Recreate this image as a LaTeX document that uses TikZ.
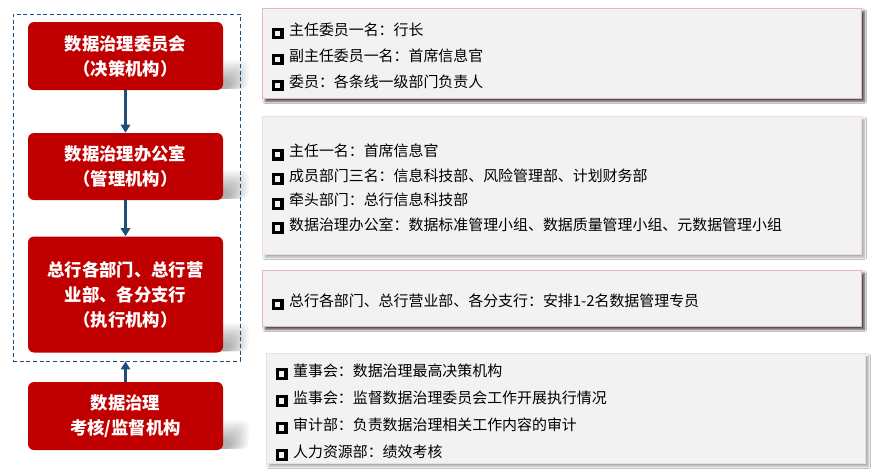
\documentclass[tikz,border=0pt]{standalone}
\usepackage{fontspec}
\setmainfont{Noto Sans CJK SC}
\usetikzlibrary{arrows.meta, positioning, shadows.blur, backgrounds}
\definecolor{govred}{HTML}{C00000}
\definecolor{navyline}{HTML}{1F4E79}
\definecolor{panelgray}{HTML}{F2F2F2}
\definecolor{panelrim}{HTML}{E6B8B7}
\definecolor{panelrimsoft}{HTML}{F2DCDB}

\newcommand{\sqmark}{\raisebox{-0.5pt}{\setlength{\fboxsep}{0pt}\setlength{\fboxrule}{2.3pt}\fbox{\rule{0pt}{4.2pt}\hspace{3.8pt}}}\hspace{4.2pt}}
\newcommand{\infoline}[1]{\raisebox{-6.2pt}[0pt][0pt]{\sqmark #1}}

\tikzset{
  orgbox/.style={fill=govred, rounded corners=4.5pt, text=white, align=center, minimum width=146.25pt, inner sep=0pt, font=\fontsize{13}{18.75}\selectfont\bfseries},
  infobox/.style={fill=panelgray, draw=panelrim, line width=0.5pt, anchor=north west, align=left, text width=434.25pt, inner xsep=7.5pt, inner ysep=0pt, font=\fontsize{11.2}{19.5}\selectfont},
  darkshadow/.style={blur shadow={shadow xshift=2.2pt, shadow yshift=-2.2pt, shadow opacity=75, shadow blur radius=1.8pt}},
  softshadow/.style={blur shadow={shadow xshift=2.2pt, shadow yshift=-2.2pt, shadow opacity=35, shadow blur radius=1.8pt}},
  flow/.style={navyline, line width=1.8pt, -{Triangle[length=6pt, width=7pt]}}
}

\begin{document}
\begin{tikzpicture}[x=0.75pt, y=-0.75pt]
  \useasboundingbox (0,0) rectangle (882,472);

  % Left column: governance bodies
  \node[orgbox, minimum height=51pt] (decide) at (125.5,56) {数据治理委员会\\（决策机构）};
  \node[orgbox, minimum height=50.25pt] (office) at (125.5,166.5) {数据治理办公室\\（管理机构）};
  \node[orgbox, minimum height=87pt] (execute) at (125.5,294.5) {总行各部门、总行营\\业部、各分支行\\（执行机构）};
  \node[orgbox, minimum height=51pt] (audit) at (125.5,416) {数据治理\\考核/监督机构};

  % Dashed frame round the first three bodies
  \node[draw=navyline, dash pattern=on 3pt off 2pt, line width=0.6pt, minimum width=170.25pt, minimum height=260.25pt, inner sep=0pt] (frame) at (126.5,187.5) {};

  % Arrows
  \draw[flow] (decide) -- (office);
  \draw[flow] (office) -- (execute);
  \draw[flow] (audit) -- (audit |- frame.south);

  % Right column: members of each body
  \node[infobox, darkshadow, minimum height=67.5pt] (decideinfo) at (262,8)
    {\infoline{主任委员一名：行长}\\\infoline{副主任委员一名：首席信息官}\\\infoline{委员：各条线一级部门负责人}};
  \node[infobox, softshadow, draw=panelrimsoft, minimum height=103.5pt, font=\fontsize{11.2}{18.4}\selectfont] (officeinfo) at (262,116)
    {\infoline{主任一名：首席信息官}\\\infoline{成员部门三名：信息科技部、风险管理部、计划财务部}\\\infoline{牵头部门：总行信息科技部}\\\infoline{数据治理办公室：数据标准管理小组、数据质量管理小组、元数据管理小组}};
  \node[infobox, darkshadow, minimum height=42pt] (executeinfo) at (262,270)
    {\infoline{总行各部门、总行营业部、各分支行：安排1-2名数据管理专员}};
  \node[infobox, softshadow, draw=panelrimsoft, minimum height=82.5pt, font=\fontsize{11.2}{20.25}\selectfont] (auditinfo) at (266,353)
    {\infoline{董事会：数据治理最高决策机构}\\\infoline{监事会：监督数据治理委员会工作开展执行情况}\\\infoline{审计部：负责数据治理相关工作内容的审计}\\\infoline{人力资源部：绩效考核}};

  % Background and soft shadows behind the red boxes
  \begin{scope}[on background layer]
    \fill[white] (0,0) rectangle (882,472);
    \foreach \b in {decide, office, execute, audit}
      \foreach \i in {1,...,8}
        \fill[black, opacity=0.045, rounded corners=5pt] ([xshift=-20pt, yshift=1pt]\b.south east) rectangle ([xshift={(21-2*\i)*1pt}, yshift={(24-2*\i)*1pt}]\b.south east);
  \end{scope}
\end{tikzpicture}
\end{document}
